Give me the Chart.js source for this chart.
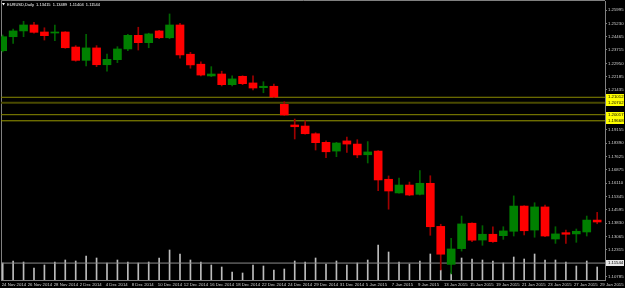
<!DOCTYPE html>
<html>
<head>
<meta charset="utf-8">
<script src="https://cdn.jsdelivr.net/npm/chart.js@4.4.1/dist/chart.umd.min.js"></script>
<style>
  html, body { margin: 0; padding: 0; background: #000; }
  #wrap { width: 625px; height: 288px; }
</style>
</head>
<body>
<div id="wrap"><canvas id="eurusd" width="625" height="288"></canvas></div>
<script>
// EURUSD daily bars, oldest first
var opens  = [1.2367, 1.2447, 1.2480, 1.2514, 1.2474, 1.2468, 1.2474, 1.2388, 1.2312, 1.2383,
              1.2287, 1.2316, 1.2377, 1.2455, 1.2413, 1.2480, 1.2441, 1.2514, 1.2347, 1.2290,
              1.2223, 1.2234, 1.2173, 1.2221, 1.2183, 1.2156, 1.2164, 1.2061, 1.1943, 1.1937,
              1.1893, 1.1844, 1.1794, 1.1852, 1.1834, 1.1773, 1.1794, 1.1633, 1.1555, 1.1600,
              1.1547, 1.1610, 1.1364, 1.1147, 1.1237, 1.1382, 1.1286, 1.1319, 1.1311, 1.1336,
              1.1480, 1.1343, 1.1475, 1.1292, 1.1328, 1.1321, 1.1332, 1.1400];
var highs  = [1.2457, 1.2491, 1.2535, 1.2529, 1.2498, 1.2514, 1.2476, 1.2396, 1.2461, 1.2396,
              1.2348, 1.2390, 1.2461, 1.2501, 1.2467, 1.2484, 1.2577, 1.2524, 1.2358, 1.2304,
              1.2276, 1.2250, 1.2223, 1.2224, 1.2223, 1.2190, 1.2177, 1.2076, 1.1977, 1.1967,
              1.1899, 1.1853, 1.1844, 1.1874, 1.1859, 1.1848, 1.1797, 1.1652, 1.1640, 1.1617,
              1.1682, 1.1653, 1.1376, 1.1296, 1.1423, 1.1384, 1.1368, 1.1362, 1.1362, 1.1538,
              1.1482, 1.1499, 1.1486, 1.1362, 1.1343, 1.1349, 1.1423, 1.1444];
var lows   = [1.2360, 1.2409, 1.2447, 1.2467, 1.2428, 1.2424, 1.2381, 1.2307, 1.2280, 1.2276,
              1.2250, 1.2299, 1.2367, 1.2371, 1.2384, 1.2436, 1.2436, 1.2324, 1.2267, 1.2223,
              1.2219, 1.2166, 1.2166, 1.2173, 1.2143, 1.2127, 1.2099, 1.1998, 1.1863, 1.1890,
              1.1800, 1.1756, 1.1762, 1.1787, 1.1756, 1.1726, 1.1568, 1.1462, 1.1553, 1.1539,
              1.1543, 1.1313, 1.1115, 1.1092, 1.1223, 1.1276, 1.1256, 1.1273, 1.1290, 1.1309,
              1.1315, 1.1302, 1.1305, 1.1267, 1.1267, 1.1273, 1.1309, 1.1379];
var closes = [1.2447, 1.2480, 1.2514, 1.2472, 1.2453, 1.2474, 1.2384, 1.2312, 1.2383, 1.2287,
              1.2318, 1.2377, 1.2455, 1.2413, 1.2463, 1.2441, 1.2514, 1.2343, 1.2286, 1.2228,
              1.2234, 1.2173, 1.2206, 1.2179, 1.2154, 1.2164, 1.2103, 1.2000, 1.1933, 1.1893,
              1.1842, 1.1790, 1.1840, 1.1834, 1.1772, 1.1789, 1.1629, 1.1566, 1.1600, 1.1543,
              1.1610, 1.1362, 1.1205, 1.1235, 1.1378, 1.1285, 1.1319, 1.1277, 1.1338, 1.1480,
              1.1339, 1.1475, 1.1309, 1.1321, 1.1319, 1.1336, 1.1400, 1.1389];
// tick volume, thousands
var volumes = [119, 133, 126, 84, 105, 126, 140, 133, 168, 154,
               119, 140, 126, 119, 126, 154, 210, 182, 140, 126,
               105, 91, 56, 49, 105, 98, 70, 77, 133, 126,
               154, 112, 133, 105, 119, 140, 245, 196, 126, 112,
               133, 182, 70, 49, 154, 147, 140, 133, 119, 161,
               147, 182, 140, 140, 126, 98, 133, 91];

var priceTicks = [1.25995, 1.25230, 1.24465, 1.23715, 1.22950, 1.22185, 1.21435, 1.20670,
                  1.19905, 1.19155, 1.18390, 1.17625, 1.16875, 1.16110, 1.15345, 1.14595,
                  1.13830, 1.13065, 1.12315, 1.11550, 1.10785];
var dateLabels = ['24 Nov 2014', '26 Nov 2014', '28 Nov 2014', '2 Dec 2014', '4 Dec 2014',
                  '8 Dec 2014', '10 Dec 2014', '12 Dec 2014', '16 Dec 2014', '18 Dec 2014',
                  '22 Dec 2014', '24 Dec 2014', '29 Dec 2014', '31 Dec 2014', '5 Jan 2015',
                  '7 Jan 2015', '9 Jan 2015', '13 Jan 2015', '15 Jan 2015', '19 Jan 2015',
                  '21 Jan 2015', '23 Jan 2015', '27 Jan 2015', '29 Jan 2015'];
var levels = [1.21012, 1.20702, 1.20017, 1.19668];
var bid = 1.11544;
var symbolText = 'EURUSD,Daily  1.13415  1.13489  1.11404  1.11544';

// visible window of the chart
var X_MIN = -0.163, X_MAX = 57.75;
var Y_MIN = 1.10578, Y_MAX = 1.26509;
var V_MAX = 1953;
var DATE_START = -0.096, DATE_STEP = 2.494; // time labels sit every ~26px like MT4
var FONT = 'Liberation Sans';

var bodies = [], wicks = [], vols = [], bodyColors = [], wickColors = [];
for (var i = 0; i < opens.length; i++) {
    var up = closes[i] >= opens[i];
    bodies.push({x: i, y: [opens[i], closes[i]]});
    wicks.push({x: i, y: [lows[i], highs[i]]});
    vols.push({x: i, y: volumes[i]});
    bodyColors.push(up ? '#008000' : '#ff0000');
    wickColors.push(up ? '#006400' : '#a00000');
}

var levelColors = ['#8a8a00', '#4a4a00', '#8a8a00', '#9a9a00'];
var lineSets = levels.map(function (lv, k) {
    return {
        type: 'line',
        data: [{x: X_MIN, y: lv}, {x: X_MAX, y: lv}],
        borderColor: levelColors[k],
        borderWidth: k === 1 ? 2 : 1,
        pointRadius: 0,
        order: 2
    };
});
lineSets.push({
    type: 'line',
    data: [{x: X_MIN, y: bid}, {x: X_MAX, y: bid}],
    borderColor: '#8c8c8c',
    borderWidth: 1,
    pointRadius: 0,
    order: 3
});

// frame, price boxes on the right scale and the symbol line
var mt4Plugin = {
    id: 'mt4',
    beforeDatasetsDraw: function (chart) {
        var ctx = chart.ctx, a = chart.chartArea;
        ctx.save();
        ctx.strokeStyle = '#808080';
        ctx.lineWidth = 1;
        ctx.beginPath();
        ctx.moveTo(a.left + 0.5, a.bottom);
        ctx.lineTo(a.left + 0.5, a.top - 0.5);
        ctx.lineTo(a.right, a.top - 0.5);
        ctx.stroke();
        ctx.restore();
    },
    afterDraw: function (chart) {
        var ctx = chart.ctx, a = chart.chartArea, ys = chart.scales.y;
        ctx.save();
        ctx.font = '4.3px "' + FONT + '"';
        ctx.textBaseline = 'middle';
        function box(v, bg) {
            var py = ys.getPixelForValue(v);
            ctx.fillStyle = bg;
            ctx.fillRect(a.right + 1, Math.round(py) - 3, chart.width - a.right - 2, 6);
            ctx.fillStyle = '#000';
            ctx.fillText(v.toFixed(5), a.right + 3, py);
        }
        levels.forEach(function (lv) { box(lv, '#ffff00'); });
        box(bid, '#e8e8e8');

        // symbol / OHLC line, top left
        ctx.fillStyle = '#ffffff';
        ctx.beginPath();
        ctx.moveTo(a.left + 1, a.top + 2);
        ctx.lineTo(a.left + 4, a.top + 2);
        ctx.lineTo(a.left + 2.5, a.top + 4.5);
        ctx.closePath();
        ctx.fill();
        ctx.font = '4px "' + FONT + '"';
        ctx.fillText(symbolText, a.left + 6, a.top + 4);
        ctx.restore();
    }
};

var chart = new Chart(document.getElementById('eurusd').getContext('2d'), {
    type: 'bar',
    data: {
        datasets: [
            {
                data: bodies,
                backgroundColor: bodyColors,
                barThickness: 8,
                minBarLength: 1,
                grouped: false,
                order: 0
            },
            {
                data: wicks,
                backgroundColor: wickColors,
                barThickness: 1,
                grouped: false,
                order: 1
            },
            {
                data: vols,
                yAxisID: 'v',
                backgroundColor: '#bdbdbd',
                barThickness: 1,
                grouped: false,
                order: 4
            }
        ].concat(lineSets)
    },
    options: {
        responsive: false,
        animation: false,
        layout: { padding: { top: 1, left: 1, right: 0, bottom: 0 } },
        plugins: {
            legend: { display: false },
            tooltip: { enabled: false }
        },
        scales: {
            x: {
                type: 'linear',
                min: X_MIN,
                max: X_MAX,
                offset: false,
                grid: { display: false, drawTicks: false, tickLength: 0 },
                border: { display: true, color: '#808080' },
                afterBuildTicks: function (scale) {
                    scale.ticks = dateLabels.map(function (d, j) {
                        return { value: DATE_START + j * DATE_STEP };
                    });
                },
                afterFit: function (scale) {
                    scale.height = 8;
                    scale.paddingLeft = 0;
                    scale.paddingRight = 0;
                },
                ticks: {
                    autoSkip: false,
                    maxRotation: 0,
                    align: 'start',
                    padding: 2,
                    color: '#d0d0d0',
                    font: { family: FONT, size: 4.3 },
                    callback: function (v, j) { return dateLabels[j]; }
                }
            },
            y: {
                type: 'linear',
                position: 'right',
                min: Y_MIN,
                max: Y_MAX,
                grid: { display: true, drawOnChartArea: false, drawTicks: true, tickLength: 2, color: '#808080' },
                border: { display: true, color: '#808080' },
                afterBuildTicks: function (scale) {
                    scale.ticks = priceTicks.slice().reverse().map(function (v) { return { value: v }; });
                },
                afterFit: function (scale) {
                    scale.width = 20;
                    scale.paddingTop = 0;
                    scale.paddingBottom = 0;
                },
                ticks: {
                    padding: 1,
                    color: '#d0d0d0',
                    font: { family: FONT, size: 4.3 },
                    callback: function (v) { return v.toFixed(5); }
                }
            },
            v: {
                type: 'linear',
                display: false,
                min: 0,
                max: V_MAX
            }
        }
    },
    plugins: [mt4Plugin]
});
</script>
</body>
</html>
